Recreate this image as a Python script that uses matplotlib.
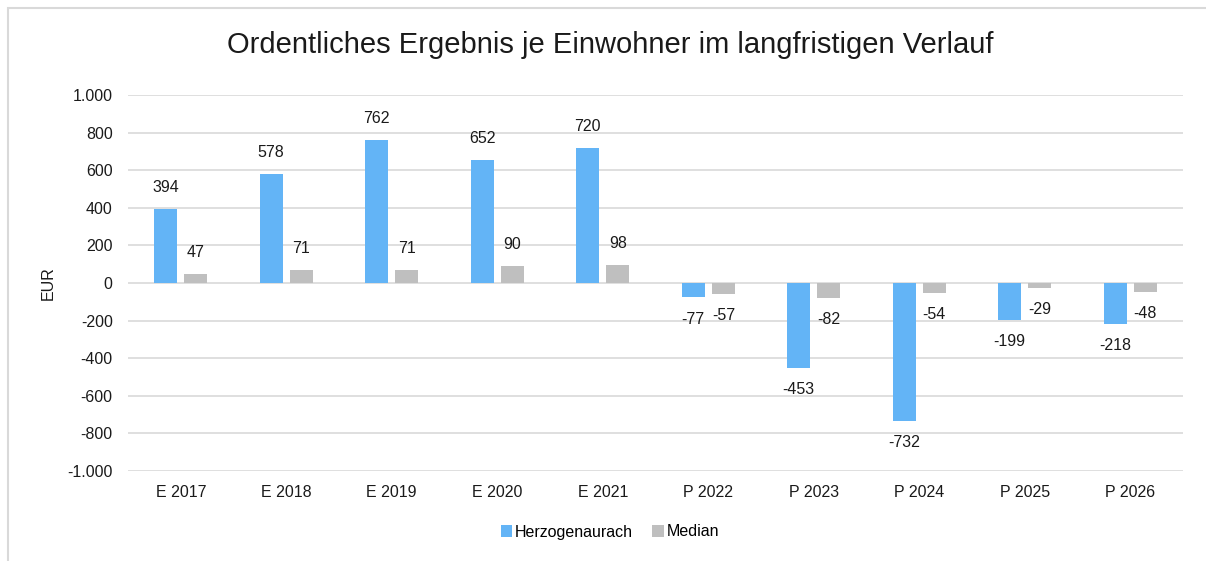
import matplotlib.pyplot as plt
from matplotlib.patches import Rectangle
import numpy as np

plt.rcParams['font.family'] = ['Liberation Sans', 'DejaVu Sans']

# Data
categories = ['E 2017', 'E 2018', 'E 2019', 'E 2020', 'E 2021',
              'P 2022', 'P 2023', 'P 2024', 'P 2025', 'P 2026']
herzogenaurach = [394, 578, 762, 652, 720, -77, -453, -732, -199, -218]
median = [47, 71, 71, 90, 98, -57, -82, -54, -29, -48]
y_ticks = np.arange(-1000, 1001, 200)

color_blue = '#63b4f6'
color_grey = '#bfbfbf'
grid_color = '#d9d9d9'
text_color = '#1a1a1a'
fs = 11.5

fig = plt.figure(figsize=(12.06, 5.61), dpi=100)
ax = fig.add_axes([128 / 1206, 1 - 471 / 561, (1183 - 128) / 1206, (471 - 95) / 561])

# chart frame (cropped at right and bottom like the screenshot)
fig.patches.append(Rectangle((8 / 1206, -0.1), 1.2, 1 - 8 / 561 + 0.1,
                             transform=fig.transFigure, fill=False,
                             edgecolor=grid_color, linewidth=1.5))

x = np.arange(len(categories))
w = 0.22
off = 0.143
bars1 = ax.bar(x - off, herzogenaurach, width=w, color=color_blue, zorder=3,
               label='Herzogenaurach')
bars2 = ax.bar(x + off, median, width=w, color=color_grey, zorder=3,
               label='Median')

for bars in (bars1, bars2):
    for bar in bars:
        h = bar.get_height()
        dy = 15.5 if h >= 0 else -15.5
        ax.annotate(f'{h:.0f}', xy=(bar.get_x() + bar.get_width() / 2, h),
                    xytext=(0, dy), textcoords='offset points',
                    ha='center', va='center', fontsize=fs, color=text_color)

ax.set_xlim(-0.5, len(categories) - 0.5)
ax.set_ylim(-1000, 1000)
ax.set_yticks(y_ticks)
ax.set_yticklabels([f'{v:,}'.replace(',', '.') for v in y_ticks])
ax.set_xticks(x)
ax.set_xticklabels(categories)
ax.tick_params(axis='both', length=0, labelsize=fs, colors=text_color)
ax.tick_params(axis='x', pad=10)
ax.tick_params(axis='y', pad=11)
ax.grid(True, axis='y', color=grid_color, linewidth=1.2, zorder=0)
ax.grid(False, axis='x')
for s in ax.spines.values():
    s.set_visible(False)

ax.set_ylabel('EUR', fontsize=fs, color=text_color, labelpad=8)
fig.text(610 / 1206, 1 - 45 / 561, 'Ordentliches Ergebnis je Einwohner im langfristigen Verlauf',
         ha='center', va='center', fontsize=21, color=text_color)

fig.legend(loc='center', bbox_to_anchor=(610 / 1206, 1 - 532 / 561), ncol=2,
           frameon=False, fontsize=fs, handlelength=0.7, handleheight=0.7,
           handletextpad=0.2, columnspacing=1.2)

plt.savefig('out.png', dpi=100)
